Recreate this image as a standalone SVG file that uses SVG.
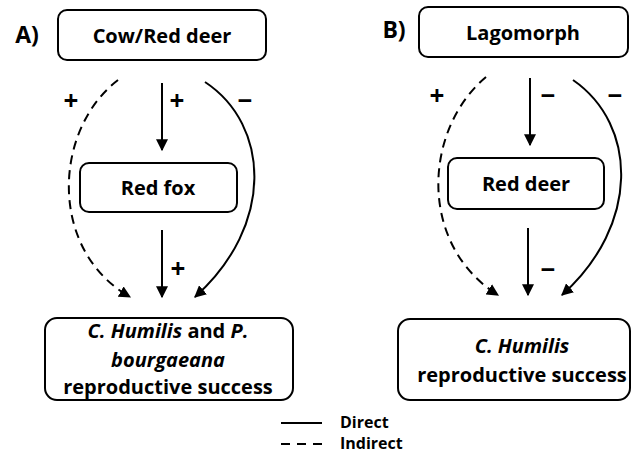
<svg xmlns="http://www.w3.org/2000/svg" width="636" height="455" viewBox="0 0 636 455">
<defs>
<marker id="ah" viewBox="0 0 10 10" refX="9" refY="5" markerWidth="6" markerHeight="6" orient="auto" markerUnits="strokeWidth">
<path d="M0,0 L10,5 L0,10 Z" fill="#000"/>
</marker>
<style>
.box{fill:#fff;stroke:#000;stroke-width:2}
.t{font-family:"Open Sans","Liberation Sans",sans-serif;font-weight:700;fill:#000;text-anchor:middle}
.lbl{font-family:"Open Sans","Liberation Sans",sans-serif;font-weight:700;font-size:26px;fill:#000;text-anchor:middle;dominant-baseline:central}
.c{fill:none;stroke:#000;stroke-width:2;marker-end:url(#ah)}
.d{stroke-dasharray:9,6}
.leg{stroke:#000;stroke-width:2}
</style>
</defs>
<rect width="636" height="455" fill="#fff"/>
<text class="t" x="27" y="43" style="font-size:23px">A)</text>
<text class="t" x="394" y="38" style="font-size:23px">B)</text>
<g id="connectors">
<path class="c d" d="M118,80 C53,130 48,250 130,297"/>
<path class="c" d="M162,83 L162,150"/>
<path class="c" d="M205,82 C270,125 275,225 195,297"/>
<path class="c" d="M162,230 L162,297"/>
<path class="c d" d="M486,77 C423,130 418,245 498,295"/>
<path class="c" d="M530,78 L530,145"/>
<path class="c" d="M573,80 C638,125 640,225 562,295"/>
<path class="c" d="M528,228 L528,295"/>
</g>
<g id="labels">
<text class="lbl" x="71" y="100">+</text>
<text class="lbl" x="177" y="100">+</text>
<text class="lbl" x="245" y="100">−</text>
<text class="lbl" x="178" y="268">+</text>
<text class="lbl" x="437" y="95">+</text>
<text class="lbl" x="548" y="95">−</text>
<text class="lbl" x="615" y="95">−</text>
<text class="lbl" x="548" y="269">−</text>
</g>
<g id="cow">
<rect class="box" x="58" y="10" width="208" height="50" rx="9"/>
<text class="t" x="162" y="43" style="font-size:20px">Cow/Red deer</text>
</g>
<g id="fox">
<rect class="box" x="80" y="163" width="157" height="49" rx="9"/>
<text class="t" x="158" y="195" style="font-size:20px">Red fox</text>
</g>
<g id="successA">
<rect class="box" x="45" y="318" width="248" height="82" rx="12"/>
<text class="t" x="168" y="338" style="font-size:20px"><tspan font-style="italic">C. Humilis</tspan> and <tspan font-style="italic">P.</tspan></text>
<text class="t" x="168" y="367" style="font-size:20px;font-style:italic">bourgaeana</text>
<text class="t" x="168" y="394" style="font-size:20px">reproductive success</text>
</g>
<g id="lago">
<rect class="box" x="419" y="7" width="209" height="50" rx="9"/>
<text class="t" x="523" y="40" style="font-size:20px">Lagomorph</text>
</g>
<g id="reddeer">
<rect class="box" x="448" y="158" width="156" height="51" rx="9"/>
<text class="t" x="526" y="191" style="font-size:20px">Red deer</text>
</g>
<g id="successB">
<rect class="box" x="398" y="319" width="232" height="81" rx="12"/>
<text class="t" x="522" y="353" style="font-size:20px;font-style:italic">C. Humilis</text>
<text class="t" x="522" y="382" style="font-size:20px">reproductive success</text>
</g>
<g id="legend">
<line class="leg" x1="281" y1="423" x2="322" y2="423"/>
<line class="leg" x1="281" y1="444" x2="322" y2="444" stroke-dasharray="9,7"/>
<text class="t" x="340" y="428" style="font-size:16px;text-anchor:start">Direct</text>
<text class="t" x="340" y="449" style="font-size:16px;text-anchor:start">Indirect</text>
</g>
</svg>
